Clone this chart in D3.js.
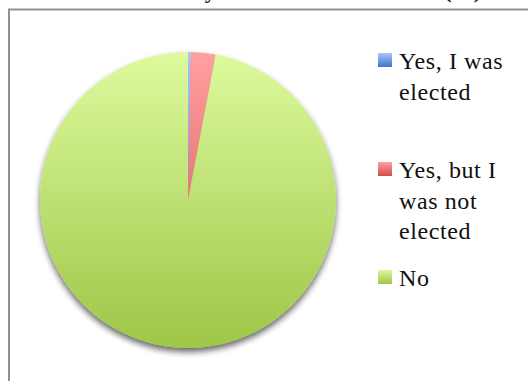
<!DOCTYPE html>
<html lang="en">
<head>
    <meta charset="UTF-8">
    <title>Candidacy</title>
    <style>
        body { margin: 0; background: #fff; }
        text { font-family: "Liberation Serif", "Times New Roman", serif; }
    </style>
    <script src="https://cdn.jsdelivr.net/npm/d3@7"></script>
</head>
<body>
<svg width="528" height="381"></svg>
<script type="text/javascript">
    var categories = ["Yes, I was elected", "Yes, but I was not elected", "No"];
    var values = [0.3, 2.7, 97.0];
    // legend lines, wrapped as in the chart
    var legendLines = [["Yes, I was", "elected"], ["Yes, but I", "was not", "elected"], ["No"]];
    var chartTitle = "Candidacy in recent local elections (%)";

    var width = 528, height = 381;
    var svg = d3.select("svg").attr("width", width).attr("height", height);

    var cx = 188, cy = 200, radius = 148;

    // top/bottom gradient stops for each slice
    var shades = [
        { top: "#a9c6f6", bottom: "#3f74c9" },
        { top: "#ffa0a0", bottom: "#d24a4a" },
        { top: "#ddfa9e", bottom: "#9ec647" }
    ];

    var defs = svg.append("defs");

    var shadow = defs.append("filter").attr("id", "shadow")
        .attr("x", "-10%").attr("y", "-10%").attr("width", "120%").attr("height", "125%");
    shadow.append("feGaussianBlur").attr("in", "SourceAlpha").attr("stdDeviation", 3);
    shadow.append("feOffset").attr("dx", 0).attr("dy", 4).attr("result", "off");
    shadow.append("feComponentTransfer").append("feFuncA").attr("type", "linear").attr("slope", 0.6);
    var merge = shadow.append("feMerge");
    merge.append("feMergeNode");
    merge.append("feMergeNode").attr("in", "SourceGraphic");

    // pie gradients run over the whole circle (group coordinates), swatch gradients per box
    shades.forEach(function (s, i) {
        var g = defs.append("linearGradient").attr("id", "pie" + i)
            .attr("gradientUnits", "userSpaceOnUse")
            .attr("x1", 0).attr("y1", -radius).attr("x2", 0).attr("y2", radius);
        g.append("stop").attr("offset", "0%").attr("stop-color", s.top);
        g.append("stop").attr("offset", "100%").attr("stop-color", s.bottom);

        var k = defs.append("linearGradient").attr("id", "key" + i)
            .attr("x1", 0).attr("y1", 0).attr("x2", 0).attr("y2", 1);
        k.append("stop").attr("offset", "0%").attr("stop-color", s.top);
        k.append("stop").attr("offset", "100%").attr("stop-color", s.bottom);
    });

    // title sits above the frame, mostly cut off by the top edge
    svg.append("text")
        .attr("x", 481).attr("y", -2)
        .attr("text-anchor", "end")
        .style("font-size", "22px")
        .style("font-weight", "bold")
        .style("fill", "#222")
        .text(chartTitle);

    // chart frame
    svg.append("rect")
        .attr("x", 9).attr("y", 9.5)
        .attr("width", 600).attr("height", 500)
        .style("fill", "none")
        .style("stroke", "#8f8f8f")
        .style("stroke-width", 2);

    var pie = d3.pie().sort(null).value(function (d) { return d; });
    var arc = d3.arc().innerRadius(0).outerRadius(radius);

    var pieGroup = svg.append("g")
        .attr("transform", "translate(" + cx + "," + cy + ")")
        .attr("filter", "url(#shadow)");

    pieGroup.selectAll("path")
        .data(pie(values))
        .enter()
        .append("path")
        .attr("d", arc)
        .attr("fill", function (d, i) { return "url(#pie" + i + ")"; });

    // legend
    var legendY = [53, 162, 270];
    var lineH = 30.5;
    var legend = svg.append("g");
    categories.forEach(function (c, i) {
        legend.append("rect")
            .attr("x", 378).attr("y", legendY[i])
            .attr("width", 14).attr("height", 14)
            .attr("fill", "url(#key" + i + ")");
        var t = legend.append("text")
            .attr("x", 399).attr("y", legendY[i] + 16)
            .style("font-size", "24px")
            .style("letter-spacing", "0.6px")
            .style("fill", "#111");
        legendLines[i].forEach(function (line, j) {
            t.append("tspan").attr("x", 399).attr("dy", j === 0 ? 0 : lineH).text(line);
        });
    });
</script>
</body>
</html>
